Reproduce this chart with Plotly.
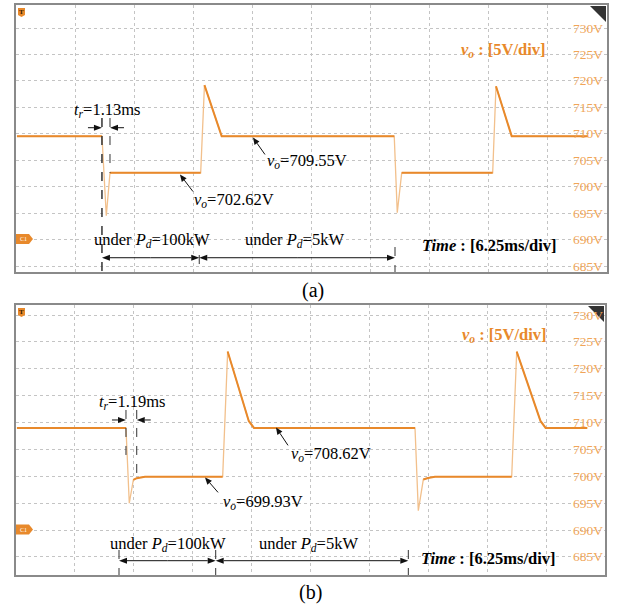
import math
import plotly.graph_objects as go

W, H = 619, 608

# ---------------- data ----------------
# panel (a): time in ms, output voltage in V
t_a = [0.1, 9.09, 9.55, 9.94, 19.53, 19.93, 21.75, 40.00, 40.32, 40.79, 50.41, 50.76, 52.42, 60.49]
v_a = [709.55, 709.55, 694.5, 702.62, 702.62, 719.2, 709.55, 709.55, 695.1, 702.62, 702.62, 719.0, 709.55, 709.55]
# panel (b)
t_b = [0.1, 11.67, 12.02, 12.45, 12.81, 13.69, 21.93, 22.46, 24.70, 25.25, 42.34, 42.69, 43.22, 43.72, 44.46,
       52.60, 53.13, 55.65, 56.20, 60.62]
v_b = [709.0, 709.0, 695.0, 699.35, 699.65, 699.93, 699.93, 723.2, 710.3, 709.0, 709.0, 693.6, 699.4, 699.7, 699.93,
       699.93, 723.2, 710.3, 709.0, 709.0]

y_ticks = [685, 690, 695, 700, 705, 710, 715, 720, 725, 730]
y_ticktext = [f"{v}V" for v in y_ticks]

# event markers (ms)
tr_a = [9.09, 9.94]          # t_r = 1.13 ms
tr_b = [11.67, 12.81]        # t_r = 1.19 ms
span_a = [9.09, 19.38, 40.08]
span_b = [10.93, 21.19, 41.63]
span_labels = ["under <i>P</i><sub><i>d</i></sub>=100kW", "under <i>P</i><sub><i>d</i></sub>=5kW"]

ORANGE = "#E8892B"
LIGHT = "#F2C08C"
LABEL = "#F0A558"
FONT = "Liberation Serif, Times New Roman, serif"

yrange_a = [683.87, 734.35]
yrange_b = [681.65, 731.86]
# pixel boxes of the two scope screens: (left, right, top, bottom)
box_a = (16, 607, 5, 272)
box_b = (16, 605, 305, 575)


def P(px, py):
    return px / W, 1 - py / H


def to_px(t, v, box, yr):
    l, r, tp, b = box
    return l + t / 62.5 * (r - l), tp + (yr[1] - v) / (yr[1] - yr[0]) * (b - tp)


def split_dark(t, v, thr=8.0):
    tx, vx = [t[0]], [v[0]]
    for i in range(1, len(t)):
        slope = abs(v[i] - v[i - 1]) / max(t[i] - t[i - 1], 1e-6)
        if slope > thr:
            tx.append(None)
            vx.append(None)
        tx.append(t[i])
        vx.append(v[i])
    return tx, vx


fig = go.Figure()
for (t, v, xa, ya) in [(t_a, v_a, "x", "y"), (t_b, v_b, "x2", "y2")]:
    fig.add_trace(go.Scatter(x=t, y=v, mode="lines", line=dict(color=LIGHT, width=1.3),
                             xaxis=xa, yaxis=ya, hoverinfo="skip"))
    tx, vx = split_dark(t, v)
    fig.add_trace(go.Scatter(x=tx, y=vx, mode="lines", line=dict(color=ORANGE, width=2),
                             xaxis=xa, yaxis=ya, connectgaps=False, hoverinfo="skip"))

axis_common = dict(showgrid=True, griddash="dot", gridcolor="#c4c4c4", gridwidth=1, zeroline=False,
                   showline=True, mirror=True, linecolor="#8a8a8a", linewidth=2, ticks="",
                   showticklabels=False)

fig.update_layout(
    width=W, height=H, margin=dict(l=0, r=0, t=0, b=0),
    paper_bgcolor="white", plot_bgcolor="white", showlegend=False,
    xaxis=dict(domain=[box_a[0] / W, box_a[1] / W], range=[0, 62.5], dtick=6.25, tick0=0, anchor="y",
               **axis_common),
    yaxis=dict(domain=[1 - box_a[3] / H, 1 - box_a[2] / H], range=yrange_a, tickvals=y_ticks, anchor="x",
               **axis_common),
    xaxis2=dict(domain=[box_b[0] / W, box_b[1] / W], range=[0, 62.5], dtick=6.25, tick0=0, anchor="y2",
                **axis_common),
    yaxis2=dict(domain=[1 - box_b[3] / H, 1 - box_b[2] / H], range=yrange_b, tickvals=y_ticks, anchor="x2",
                **axis_common),
)

shapes = []
ann = []


def text(px, py, s, size=16.5, color="black", xanchor="center"):
    x, y = P(px, py)
    ann.append(dict(x=x, y=y, xref="paper", yref="paper", text=s, showarrow=False, xanchor=xanchor,
                    yanchor="middle", font=dict(family=FONT, size=size, color=color)))


def path(pts, color, close=True, width=0):
    d = "M " + " L ".join(f"{px / W:.5f},{1 - py / H:.5f}" for px, py in pts) + (" Z" if close else "")
    if close:
        shapes.append(dict(type="path", path=d, xref="paper", yref="paper", fillcolor=color,
                           line=dict(color=color, width=width)))
    else:
        shapes.append(dict(type="path", path=d, xref="paper", yref="paper",
                           line=dict(color=color, width=width)))


def arrow_px(x0, y0, x1, y1, hl=8, hw=3):
    # line from (x0,y0) to head at (x1,y1)
    ang = math.atan2(y1 - y0, x1 - x0)
    bx, by = x1 - hl * math.cos(ang), y1 - hl * math.sin(ang)
    nx, ny = -math.sin(ang), math.cos(ang)
    path([(x0, y0), (bx, by)], "#111", close=False, width=1)
    path([(x1, y1), (bx + hw * nx, by + hw * ny), (bx - hw * nx, by - hw * ny)], "#111")


def dashed(x, y0, y1, xr, yr):
    shapes.append(dict(type="line", x0=x, x1=x, y0=y0, y1=y1, xref=xr, yref=yr,
                       line=dict(color="#333", width=1, dash="dash")))


def yticks(xr_px, yr):
    for v, s in zip(y_ticks, y_ticktext):
        ann.append(dict(x=xr_px / W, y=v, xref="paper", yref=yr, text=s, showarrow=False, xanchor="right",
                        yanchor="middle", font=dict(family=FONT, size=13.5, color=LABEL)))


def panel(box, yr, xr, yref, tr, span, tr_y, span_y, dash_tops, ptrs, texts):
    yticks(605, yref)
    # t_r markers
    dashed(tr[0], dash_tops[0], dash_tops[1], xr, yref)
    dashed(tr[1], dash_tops[0], dash_tops[2], xr, yref)
    x0, yy = to_px(tr[0], tr_y, box, yr)
    x1, _ = to_px(tr[1], tr_y, box, yr)
    arrow_px(x0 - 14, yy, x0, yy)
    arrow_px(x1 + 14, yy, x1, yy)
    # load spans
    for i, s in enumerate(span):
        dashed(s, dash_tops[3 + i], yr[0], xr, yref)
    for i in range(2):
        a, sy = to_px(span[i], span_y, box, yr)
        b, _ = to_px(span[i + 1], span_y, box, yr)
        m = (a + b) / 2
        arrow_px(m, sy, a, sy)
        arrow_px(m, sy, b, sy)
    for (t, v, dx, dy) in ptrs:
        hx, hy = to_px(t, v, box, yr)
        arrow_px(hx + dx, hy + dy, hx, hy, hl=7)
    for args in texts:
        text(*args[:3], **(args[3] if len(args) > 3 else {}))


panel(box_a, yrange_a, "x", "y", tr_a, span_a, 711.15, 686.57,
      [712.98, yrange_a[0], 702.62, 712.98, 690.48, 688.59],
      [(25.06, 709.3, 12, 17), (17.34, 702.3, 13, 17)],
      [(107, 110, "<i>t</i><sub><i>r</i></sub>=1.13ms"),
       (265, 161, "<i>v</i><sub><i>o</i></sub>=709.55V", {"xanchor": "left"}),
       (192, 200, "<i>v</i><sub><i>o</i></sub>=702.62V", {"xanchor": "left"}),
       (152, 240, span_labels[0]),
       (294, 240, span_labels[1]),
       (489, 246, "<b><i>Time</i> : [6.25ms/div]</b>"),
       (503, 50, "<b><i>v</i><sub><i>o</i></sub> : [5V/div]</b>", {"color": ORANGE}),
       (313, 290, "(a)", {"size": 20})])

panel(box_b, yrange_b, "x2", "y2", tr_b, span_b, 710.48, 684.31,
      [712.34, 703.5, 699.93, 686.3, 686.3, 686.3],
      [(27.59, 709.1, 12, 18), (20.06, 699.8, 13, 15)],
      [(132, 402, "<i>t</i><sub><i>r</i></sub>=1.19ms"),
       (289, 454, "<i>v</i><sub><i>o</i></sub>=708.62V", {"xanchor": "left"}),
       (221, 502, "<i>v</i><sub><i>o</i></sub>=699.93V", {"xanchor": "left"}),
       (168, 544, span_labels[0]),
       (308, 544, span_labels[1]),
       (488, 558, "<b><i>Time</i> : [6.25ms/div]</b>"),
       (504, 335, "<b><i>v</i><sub><i>o</i></sub> : [5V/div]</b>", {"color": ORANGE}),
       (310, 592, "(b)", {"size": 20})])

# ---------- scope decorations ----------
for top, cy, right in [(box_a[2], 239, 606), (box_b[2], 529.5, 604)]:
    path([(18, top + 3), (25, top + 3), (25, top + 10), (21.5, top + 12), (18, top + 10)], ORANGE)
    text(21.5, top + 7, "<b>T</b>", size=7, color="#3a2000")
    path([(16, cy - 5), (29, cy - 5), (33, cy), (29, cy + 5), (16, cy + 5)], ORANGE)
    text(23, cy, "C1", size=6, color="white")
    path([(right - 16, top + 1), (right, top + 1), (right, top + 17)], "#333333")

fig.update_layout(shapes=shapes, annotations=ann)
fig.write_html("out.html")
